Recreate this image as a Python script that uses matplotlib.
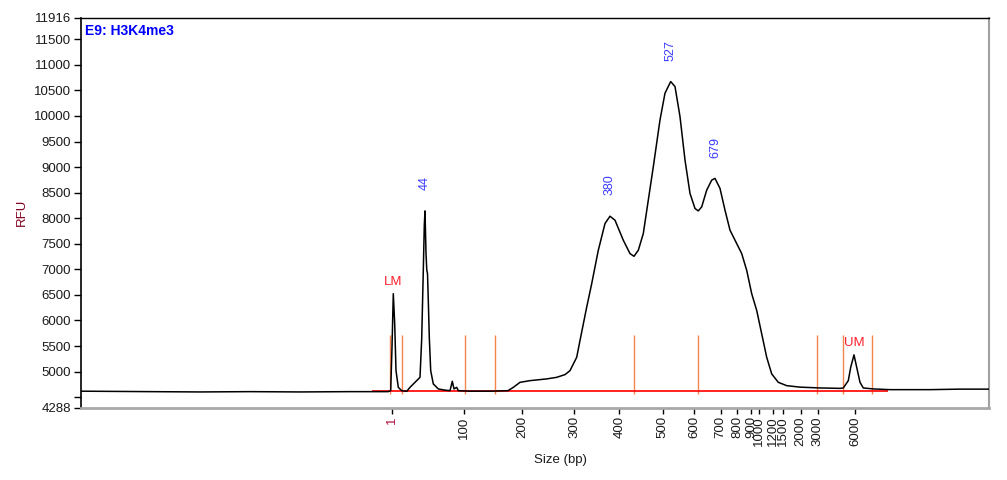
import matplotlib
matplotlib.use("Agg")
import matplotlib.pyplot as plt

plt.rcParams['font.family'] = ['Liberation Sans', 'DejaVu Sans']

# ---- data (migration time, arbitrary units) ----
trace_time = [0.0, 6.9, 11.9, 16.9, 21.9, 26.9, 30.7, 30.97, 31.1, 31.23, 31.37, 31.5,
              31.73, 32.07, 32.57, 32.9, 33.4, 33.9, 34.07, 34.23, 34.33, 34.4, 34.5,
              34.58, 34.65, 34.73, 34.83, 34.97, 35.23, 35.73, 36.4, 36.9, 37.13, 37.3,
              37.57, 37.73, 38.9, 40.9, 42.7, 43.23, 43.9, 44.9, 46.57, 47.57, 48.4,
              48.9, 49.57, 49.9, 50.57, 51.07, 51.73, 52.4, 52.9, 53.4, 54.23, 54.9,
              55.3, 55.73, 56.23, 56.73, 57.23, 57.9, 58.4, 58.97, 59.4, 59.9, 60.4,
              60.9, 61.4, 61.73, 62.07, 62.57, 63.07, 63.4, 63.9, 64.4, 64.9, 65.57,
              66.07, 66.57, 67.07, 67.57, 68.07, 68.57, 69.07, 69.73, 70.57, 71.9,
              73.9, 75.9, 76.23, 76.73, 76.97, 77.3, 77.57, 77.9, 78.23, 79.23, 80.9,
              84.9, 87.9, 90.8]
trace_rfu = [4617, 4608, 4602, 4608, 4602, 4608, 4608, 4627, 5476, 6524, 5935, 5019,
             4692, 4627, 4614, 4692, 4790, 4888, 5641, 6980, 7863, 8143, 7314,
             6980, 6922, 6392, 5672, 5019, 4759, 4661, 4637, 4627, 4810, 4661,
             4692, 4627, 4617, 4617, 4627, 4692, 4790, 4823, 4857, 4888, 4941,
             5019, 5280, 5608, 6261, 6720, 7373, 7896, 8039, 7961, 7569, 7308,
             7255, 7373, 7700, 8354, 9006, 9922, 10446, 10673, 10575, 9987, 9137,
             8485, 8190, 8143, 8222, 8549, 8745, 8779, 8583, 8157, 7766, 7504,
             7308, 6980, 6524, 6196, 5739, 5280, 4955, 4790, 4725, 4696,
             4680, 4672, 4680, 4823, 5084, 5327, 5084, 4790, 4680, 4661, 4647,
             4647, 4657, 4657]

peak_labels = ["44", "380", "527", "679"]
peak_time = [34.4, 52.9, 58.97, 63.4]
peak_rfu = [8143, 8039, 10673, 8779]

marker_labels = ["LM", "UM"]
marker_time = [31.23, 77.3]
marker_rfu = [6524, 5327]

region_time = [30.9, 32.07, 38.4, 41.4, 55.3, 61.73, 73.57, 76.23, 79.07]
region_low, region_high = 4568, 5725

baseline_start, baseline_end, baseline_rfu = 29.1, 80.7, 4621

size_labels = ["1", "100", "200", "300", "400", "500", "600", "700", "800", "900",
               "1000", "1200", "1500", "2000", "3000", "6000"]
size_time = [31.13, 38.33, 44.13, 49.33, 53.83, 58.15, 61.33, 63.97, 65.63, 67.03,
             67.80, 69.17, 70.23, 71.97, 73.67, 77.43]

ytick_vals = [11916, 11500, 11000, 10500, 10000, 9500, 9000, 8500, 8000, 7500,
              7000, 6500, 6000, 5500, 5000, 4500, 4288]
ytick_labels = ["11916", "11500", "11000", "10500", "10000", "9500", "9000", "8500",
                "8000", "7500", "7000", "6500", "6000", "5500", "5000", "", "4288"]

# ---- figure ----
fig = plt.figure(figsize=(10.07, 4.80), dpi=100)
ax = fig.add_axes([81 / 1007, 72 / 480, (989 - 81) / 1007, (408 - 18) / 480])
ax.set_xlim(0, 90.8)
ax.set_ylim(4288, 11916)

ax.vlines(region_time, region_low, region_high, colors='#f5844c', linewidth=1.0, zorder=1)
ax.hlines(baseline_rfu, baseline_start, baseline_end, colors='#ff1010', linewidth=1.3, zorder=2)
ax.plot(trace_time, trace_rfu, color='black', linewidth=1.1, zorder=3)

for lab, t, v in zip(peak_labels, peak_time, peak_rfu):
    ax.annotate(lab, (t, v), xytext=(0, 15), textcoords='offset points',
                rotation=90, ha='center', va='bottom', color='#3a3aff', fontsize=9)
for lab, t, v in zip(marker_labels, marker_time, marker_rfu):
    ax.annotate(lab, (t, v), xytext=(0, 4), textcoords='offset points',
                ha='center', va='bottom', color='#ff2030', fontsize=9.5)

ax.text(0.004, 0.985, "E9: H3K4me3", transform=ax.transAxes, ha='left', va='top',
        color='#0000ff', fontsize=10, fontweight='bold')

ax.set_yticks(ytick_vals)
ax.set_yticklabels(ytick_labels)
ax.tick_params(axis='y', direction='out', length=5, width=1, pad=2, labelsize=9.5,
               colors='black', labelcolor='#1a1a1a')
ax.set_xticks(size_time)
ax.set_xticklabels(size_labels, rotation=90)
ax.tick_params(axis='x', direction='out', length=4, width=1, pad=2, labelsize=9.5,
               labelcolor='#1a1a1a')
ax.get_xticklabels()[0].set_color('#b01040')

ax.spines['left'].set_color('black')
ax.spines['left'].set_linewidth(1.2)
ax.spines['top'].set_color('black')
ax.spines['top'].set_linewidth(1.0)
ax.spines['right'].set_color('#a0a0a0')
ax.spines['right'].set_linewidth(1.5)
ax.spines['bottom'].set_color('#a8a8a8')
ax.spines['bottom'].set_linewidth(2.0)

fig.text(22 / 1007, 1 - 212 / 480, "RFU", rotation=90, ha='center', va='center',
         color='#800020', fontsize=9.5)
fig.text(560 / 1007, 1 - 460 / 480, "Size (bp)", ha='center', va='center',
         color='#1a1a1a', fontsize=9.5)

fig.savefig("out.png", dpi=100)
